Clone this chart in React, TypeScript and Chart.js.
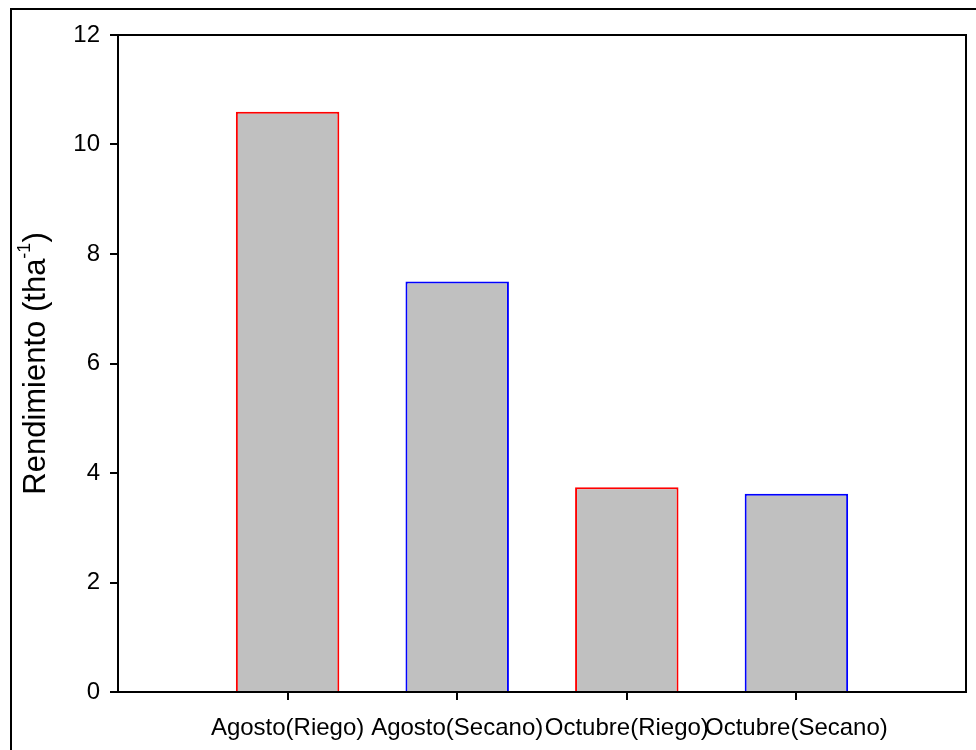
import React, { useEffect, useRef } from "react";
import { Chart, registerables } from "chart.js";

Chart.register(...registerables);

const categories = ["Agosto(Riego)", "Agosto(Secano)", "Octubre(Riego)", "Octubre(Secano)"];
const rendimiento = [10.6, 7.5, 3.74, 3.62];
const borderColors = ["#FF0000", "#0000FF", "#FF0000", "#0000FF"];
const yTicks = [0, 2, 4, 6, 8, 10, 12];

const FONT = "'Liberation Sans', Arial, sans-serif";

export default function App() {
  const ref = useRef<HTMLCanvasElement>(null);

  useEffect(() => {
    document.body.style.margin = "0";
    const canvas = ref.current!;
    const labels = ["", ...categories, ""];
    const data = [null, ...rendimiento, null];
    const bColors = ["transparent", ...borderColors, "transparent"];

    const framePlugin = {
      id: "frame",
      afterDraw(chart: any) {
        const { ctx, chartArea } = chart;
        ctx.save();
        ctx.strokeStyle = "#000";
        ctx.lineWidth = 2;
        // outer figure frame
        ctx.strokeRect(11, 9, 1000, 800);
        // top and right plot border
        ctx.beginPath();
        ctx.moveTo(chartArea.left - 8, chartArea.top);
        ctx.lineTo(chartArea.right, chartArea.top);
        ctx.lineTo(chartArea.right, chartArea.bottom);
        ctx.stroke();
        // y title with superscript
        const cy = (chartArea.top + chartArea.bottom) / 2;
        ctx.translate(36, cy);
        ctx.rotate(-Math.PI / 2);
        ctx.fillStyle = "#000";
        ctx.textBaseline = "middle";
        ctx.textAlign = "left";
        const main = "Rendimiento (tha";
        const sup = "-1";
        const end = ")";
        const fMain = `31px ${FONT}`;
        const fSup = `18px ${FONT}`;
        ctx.font = fMain;
        const wMain = ctx.measureText(main).width;
        const wEnd = ctx.measureText(end).width;
        ctx.font = fSup;
        const wSup = ctx.measureText(sup).width;
        const total = wMain + wSup + wEnd;
        let x = -total / 2;
        ctx.font = fMain;
        ctx.fillText(main, x, 0);
        x += wMain;
        ctx.font = fSup;
        ctx.fillText(sup, x, -11);
        x += wSup;
        ctx.font = fMain;
        ctx.fillText(end, x, 0);
        ctx.restore();
      },
    };

    const chart = new Chart(canvas, {
      type: "bar",
      data: {
        labels,
        datasets: [
          {
            data,
            backgroundColor: "#C0C0C0",
            borderColor: bColors,
            borderWidth: 2,
            borderSkipped: "start",
            barPercentage: 0.61,
            categoryPercentage: 1,
          },
        ],
      },
      options: {
        responsive: false,
        animation: false,
        layout: { padding: { top: 35, right: 10, left: 0, bottom: 0 } },
        plugins: { legend: { display: false }, tooltip: { enabled: false } },
        scales: {
          x: {
            type: "category",
            offset: false,
            grid: {
              offset: false,
              drawOnChartArea: false,
              drawTicks: true,
              tickLength: 8,
              lineWidth: 2,
              color: (c: any) => (c.index === 0 || c.index === labels.length - 1 ? "transparent" : "#000"),
            },
            border: { display: true, color: "#000", width: 2 },
            ticks: {
              color: "#000",
              font: { family: FONT, size: 24 },
              padding: 14,
              maxRotation: 0,
              autoSkip: false,
            },
            afterFit: (s: any) => {
              s.height = 58;
              s.paddingLeft = 0;
              s.paddingRight = 0;
            },
          },
          y: {
            min: 0,
            max: 12,
            afterBuildTicks: (s: any) => {
              s.ticks = yTicks.map((v) => ({ value: v }));
            },
            grid: {
              drawOnChartArea: false,
              drawTicks: true,
              tickLength: 8,
              lineWidth: 2,
              color: "#000",
            },
            border: { display: true, color: "#000", width: 2 },
            ticks: {
              color: "#000",
              font: { family: FONT, size: 24 },
              padding: 10,
            },
            afterFit: (s: any) => {
              s.width = 118;
            },
          },
        },
      },
      plugins: [framePlugin],
    });
    return () => chart.destroy();
  }, []);

  return <canvas ref={ref} width={976} height={750} style={{ display: "block", width: 976, height: 750 }} />;
}
